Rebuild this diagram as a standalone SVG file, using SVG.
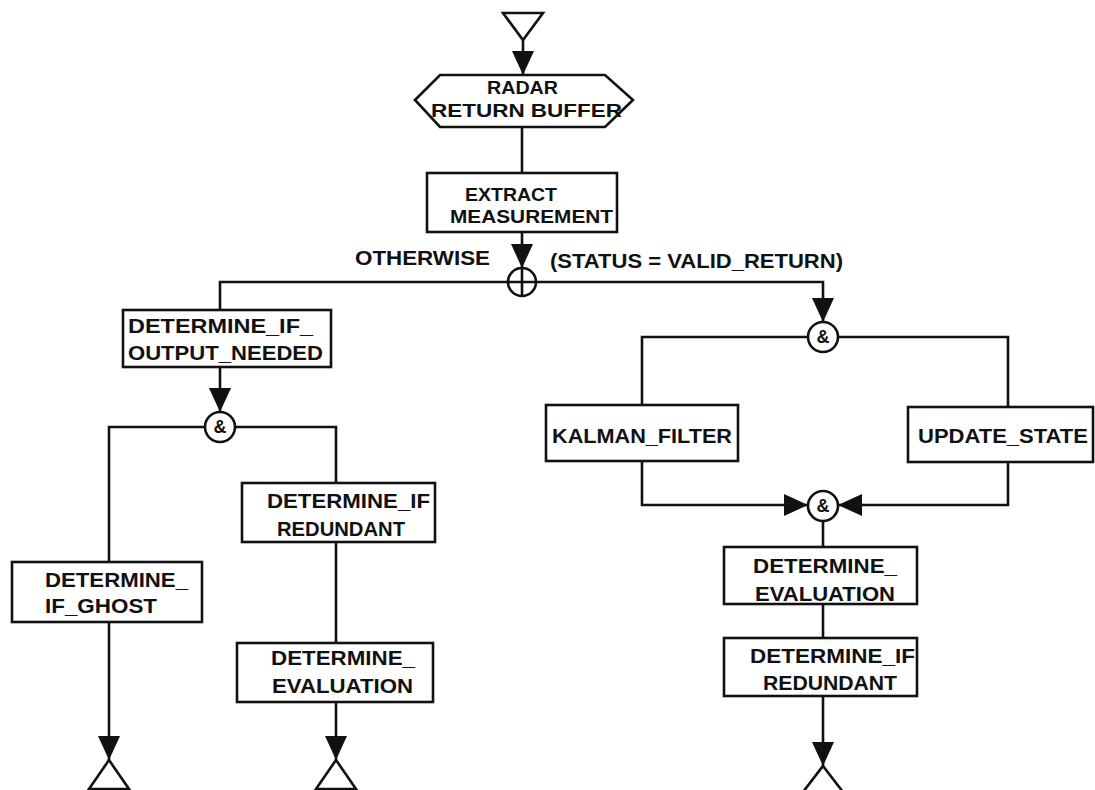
<svg xmlns="http://www.w3.org/2000/svg" width="1095" height="790" viewBox="0 0 1095 790">
<style>
.b{fill:#fff;stroke:#111;stroke-width:2.6}
.c{fill:none;stroke:#111;stroke-width:2.6}
.t{font-family:"Liberation Sans",Arial,sans-serif;font-weight:bold;font-size:21px;fill:#111}
.s{font-size:19px}
.amp{font-family:"Liberation Sans",Arial,sans-serif;font-weight:bold;font-size:18px;fill:#111;text-anchor:middle}
</style>
<defs>
<marker id="ah" viewBox="0 0 24 22" refX="24" refY="11" markerWidth="24" markerHeight="22" markerUnits="userSpaceOnUse" orient="auto">
<path d="M0,0 L24,11 L0,22 z" fill="#111"/>
</marker>
</defs>
<rect width="1095" height="790" fill="#fff"/>
<g id="connectors">
<path class="c" d="M523,40 V75" marker-end="url(#ah)"/>
<path class="c" d="M522,127 V173"/>
<path class="c" d="M522,232 V268" marker-end="url(#ah)"/>
<path class="c" d="M220,310 V282 H823 V322" marker-end="url(#ah)"/>
<path class="c" d="M220,367 V412" marker-end="url(#ah)"/>
<path class="c" d="M109,562 V427 H336 V483"/>
<path class="c" d="M109,622 V760" marker-end="url(#ah)"/>
<path class="c" d="M336,542 V643"/>
<path class="c" d="M336,702 V760" marker-end="url(#ah)"/>
<path class="c" d="M642,405 V337 H1008 V407"/>
<path class="c" d="M642,461 V505 H808" marker-end="url(#ah)"/>
<path class="c" d="M1008,462 V505 H838" marker-end="url(#ah)"/>
<path class="c" d="M823,521 V547"/>
<path class="c" d="M823,604 V638"/>
<path class="c" d="M823,696 V766" marker-end="url(#ah)"/>
</g>
<g id="start"><path class="b" d="M503,13 H543 L523,40 Z"/></g>
<g id="radar_buffer">
<path class="b" d="M415,100 L440,75 H605 L633,100 L605,127 H440 Z"/>
<text class="t s" x="487" y="94" textLength="71" lengthAdjust="spacingAndGlyphs">RADAR</text>
<text class="t s" x="431" y="117" textLength="191" lengthAdjust="spacingAndGlyphs">RETURN BUFFER</text>
</g>
<g id="extract">
<rect class="b" x="427" y="173" width="190" height="59"/>
<text class="t s" x="465" y="201" textLength="92" lengthAdjust="spacingAndGlyphs">EXTRACT</text>
<text class="t s" x="450" y="223" textLength="163" lengthAdjust="spacingAndGlyphs">MEASUREMENT</text>
</g>
<g id="or_node">
<circle class="b" cx="522" cy="282" r="14"/>
<path class="c" d="M508,282 H536 M522,268 V296"/>
</g>
<g id="labels">
<text class="t" x="355" y="265" textLength="135" lengthAdjust="spacingAndGlyphs">OTHERWISE</text>
<text class="t" x="550" y="268" textLength="293" lengthAdjust="spacingAndGlyphs">(STATUS = VALID_RETURN)</text>
</g>
<g id="output_needed">
<rect class="b" x="123" y="310" width="208" height="57"/>
<text class="t" x="128" y="333" textLength="185" lengthAdjust="spacingAndGlyphs">DETERMINE_IF_</text>
<text class="t" x="128" y="360" textLength="195" lengthAdjust="spacingAndGlyphs">OUTPUT_NEEDED</text>
</g>
<g id="and_left">
<circle class="b" cx="220" cy="427" r="15"/>
<text class="amp" x="220" y="433">&amp;</text>
</g>
<g id="redundant_left">
<rect class="b" x="242" y="483" width="193" height="59"/>
<text class="t" x="267" y="508" textLength="163" lengthAdjust="spacingAndGlyphs">DETERMINE_IF</text>
<text class="t" x="277" y="536" textLength="128" lengthAdjust="spacingAndGlyphs">REDUNDANT</text>
</g>
<g id="ghost">
<rect class="b" x="12" y="562" width="190" height="60"/>
<text class="t" x="45" y="587" textLength="143" lengthAdjust="spacingAndGlyphs">DETERMINE_</text>
<text class="t" x="45" y="613" textLength="112" lengthAdjust="spacingAndGlyphs">IF_GHOST</text>
</g>
<g id="evaluation_left">
<rect class="b" x="237" y="643" width="196" height="59"/>
<text class="t" x="271" y="665" textLength="144" lengthAdjust="spacingAndGlyphs">DETERMINE_</text>
<text class="t" x="272" y="693" textLength="141" lengthAdjust="spacingAndGlyphs">EVALUATION</text>
</g>
<g id="end1"><path class="b" d="M109,760 L129,789 H89 Z"/></g>
<g id="end2"><path class="b" d="M336,760 L356,789 H316 Z"/></g>
<g id="and_right_top">
<circle class="b" cx="823" cy="337" r="15"/>
<text class="amp" x="823" y="343">&amp;</text>
</g>
<g id="kalman">
<rect class="b" x="546" y="405" width="192" height="56"/>
<text class="t" x="552" y="443" textLength="180" lengthAdjust="spacingAndGlyphs">KALMAN_FILTER</text>
</g>
<g id="update_state">
<rect class="b" x="908" y="407" width="185" height="55"/>
<text class="t" x="918" y="443" textLength="170" lengthAdjust="spacingAndGlyphs">UPDATE_STATE</text>
</g>
<g id="and_right_bottom">
<circle class="b" cx="823" cy="506" r="15"/>
<text class="amp" x="823" y="512">&amp;</text>
</g>
<g id="evaluation_right">
<rect class="b" x="724" y="547" width="193" height="57"/>
<text class="t" x="753" y="573" textLength="144" lengthAdjust="spacingAndGlyphs">DETERMINE_</text>
<text class="t" x="755" y="601" textLength="140" lengthAdjust="spacingAndGlyphs">EVALUATION</text>
</g>
<g id="redundant_right">
<rect class="b" x="724" y="638" width="193" height="58"/>
<text class="t" x="750" y="663" textLength="165" lengthAdjust="spacingAndGlyphs">DETERMINE_IF</text>
<text class="t" x="763" y="690" textLength="134" lengthAdjust="spacingAndGlyphs">REDUNDANT</text>
</g>
<g id="end3"><path class="b" d="M823,766 L843,792 H803 Z"/></g>
</svg>
